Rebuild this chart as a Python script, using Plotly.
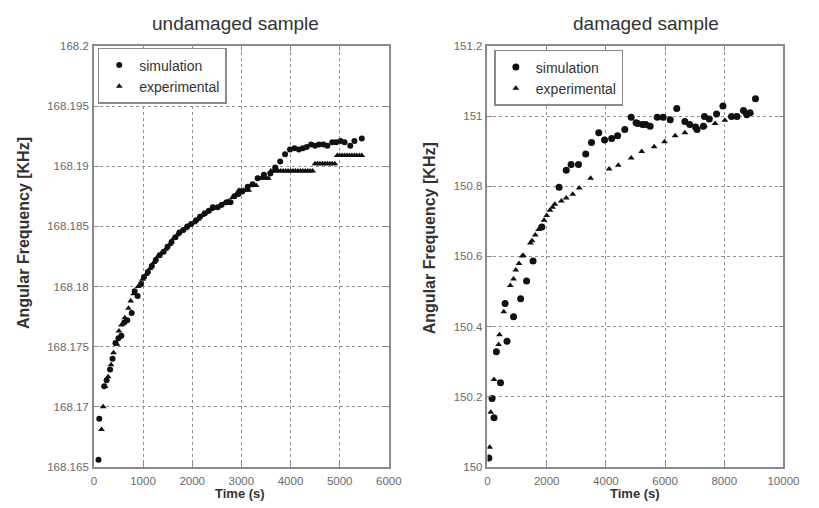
import plotly.graph_objects as go

# ---------------- undamaged sample ----------------
sim_u_t = [95, 110, 210, 260, 330, 380, 440, 500, 560, 620, 680, 770, 830, 890, 960, 1020,
           1100, 1180, 1260, 1340, 1420, 1500, 1580, 1660, 1740, 1820, 1900, 1980, 2080,
           2160, 2260, 2340, 2420, 2520, 2600, 2700, 2780, 2860, 2940, 3020, 3130, 3230,
           3330, 3460, 3590, 3690, 3790, 3890, 3990, 4080, 4170, 4250, 4330, 4420, 4500,
           4580, 4670, 4750, 4850, 4930, 5020, 5100, 5215, 5300, 5450]
sim_u_f = [168.1656, 168.1690, 168.1717, 168.1722, 168.1731, 168.1740, 168.1753, 168.1757,
           168.1759, 168.1770, 168.1772, 168.1778, 168.1796, 168.1792, 168.1802, 168.1808,
           168.1812, 168.1817, 168.1822, 168.1826, 168.1829, 168.1833, 168.1837, 168.1841,
           168.1845, 168.1847, 168.1850, 168.1852, 168.1855, 168.1858, 168.1861, 168.1863,
           168.1866, 168.1866, 168.1868, 168.1870, 168.1870, 168.1875, 168.1877, 168.1879,
           168.1883, 168.1885, 168.1890, 168.1893, 168.1894, 168.1899, 168.1904, 168.1910,
           168.1914, 168.1915, 168.1914, 168.1915, 168.1916, 168.1918, 168.1917, 168.1918,
           168.1918, 168.1917, 168.1920, 168.1920, 168.1921, 168.1920, 168.1917, 168.1921,
           168.1923]

exp_u_t = [155, 190, 230, 290, 350, 400, 470, 510, 560, 630, 705, 750, 810, 900, 990, 1060,
           1140, 1220, 1300, 1380, 1460, 1540, 1620, 1700, 1780, 1860, 1940, 2040, 2120,
           2200, 2300, 2380, 2460, 2560, 2650, 2740, 2820, 2900,
           2950, 3000, 3050, 3100, 3150,
           3200, 3250, 3300,
           3350, 3400, 3450, 3500, 3550,
           3600, 3650, 3700, 3750, 3800, 3850, 3900, 3950, 4000, 4050, 4100, 4150, 4200,
           4250, 4300, 4350, 4400, 4450,
           4500, 4550, 4600, 4650, 4700, 4750, 4800, 4850, 4900,
           4950, 5000, 5050, 5100, 5150, 5200, 5250, 5300, 5350, 5400, 5450]
exp_u_f = [168.1681, 168.1700, 168.1717, 168.1725, 168.1735, 168.1745, 168.1752, 168.1763,
           168.1768, 168.1774, 168.1782, 168.1788, 168.1794, 168.1800, 168.1806, 168.1810,
           168.1815, 168.1820, 168.1825, 168.1828, 168.1831, 168.1835, 168.1840, 168.1843,
           168.1846, 168.1848, 168.1851, 168.1853, 168.1856, 168.1859, 168.1862, 168.1864,
           168.1865, 168.1867, 168.1869, 168.1871, 168.1874, 168.1877,
           168.1880, 168.1880, 168.1880, 168.1880, 168.1880,
           168.1884, 168.1884, 168.1884,
           168.1890, 168.1890, 168.1890, 168.1890, 168.1890,
           168.1896, 168.1896, 168.1896, 168.1896, 168.1896, 168.1896, 168.1896, 168.1896,
           168.1896, 168.1896, 168.1896, 168.1896, 168.1896, 168.1896, 168.1896, 168.1896,
           168.1896, 168.1896,
           168.1902, 168.1902, 168.1902, 168.1902, 168.1902, 168.1902, 168.1902, 168.1902,
           168.1902,
           168.1909, 168.1909, 168.1909, 168.1909, 168.1909, 168.1909, 168.1909, 168.1909,
           168.1909, 168.1909, 168.1909]

# ---------------- damaged sample ----------------
sim_d_t = [45, 155, 220, 300, 440, 595, 660, 880, 1120, 1320, 1540, 1835, 2420, 2660, 2825,
           3075, 3320, 3515, 3760, 3955, 4195, 4395, 4640, 4855, 5020, 5075, 5240, 5350, 5495,
           5735, 5935, 6175, 6395, 6670, 6835, 7030, 7080, 7295, 7330, 7495, 7740, 7955,
           8245, 8430, 8650, 8760, 8870, 9055]
sim_d_f = [150.025, 150.195, 150.140, 150.328, 150.240, 150.466, 150.358, 150.428, 150.479,
           150.530, 150.587, 150.684, 150.797, 150.846, 150.862, 150.862, 150.892, 150.925,
           150.953, 150.932, 150.936, 150.944, 150.962, 150.997, 150.981, 150.979, 150.976,
           150.976, 150.971, 150.997, 150.997, 150.990, 151.022, 150.985, 150.976, 150.969,
           150.962, 150.971, 150.999, 150.992, 151.006, 151.029, 150.999, 150.999, 151.016,
           151.004, 151.010, 151.050]

exp_d_t = [75, 110, 220, 375, 405, 550, 770, 880, 955, 1065, 1175, 1210, 1450, 1505, 1615,
           1725, 1910, 2000, 2110, 2200, 2275, 2495, 2660, 2880, 3100, 3485, 4110, 4420, 4855,
           5210, 5630, 5980, 6340, 6670, 7030, 7330, 7690, 8020, 8375, 8725, 8900]
exp_d_f = [150.056, 150.156, 150.249, 150.349, 150.377, 150.442, 150.517, 150.536, 150.561,
           150.580, 150.601, 150.603, 150.638, 150.645, 150.661, 150.677, 150.703, 150.717,
           150.732, 150.740, 150.749, 150.758, 150.767, 150.777, 150.795, 150.823, 150.849,
           150.860, 150.881, 150.899, 150.913, 150.927, 150.944, 150.953, 150.967, 150.973,
           150.979, 150.988, 150.999, 151.008, 151.010]

# ticks
u_xticks = [0, 1000, 2000, 3000, 4000, 5000, 6000]
u_xtext = ["0", "1000", "2000", "3000", "4000", "5000", "6000"]
u_yticks = [168.165, 168.17, 168.175, 168.18, 168.185, 168.19, 168.195, 168.2]
u_ytext = ["168.165", "168.17", "168.175", "168.18", "168.185", "168.19", "168.195", "168.2"]
d_xticks = [0, 2000, 4000, 6000, 8000, 10000]
d_xtext = ["0", "2000", "4000", "6000", "8000", "10000"]
d_yticks = [150, 150.2, 150.4, 150.6, 150.8, 151, 151.2]
d_ytext = ["150", "150.2", "150.4", "150.6", "150.8", "151", "151.2"]

titles = ["undamaged sample", "damaged sample"]
ytitle = "Angular Frequency [KHz]"
xtitle = "Time (s)"
names = ["simulation", "experimental"]

W, H = 819, 508
MK = "#111111"
FONT = "Liberation Sans, Arial"

fig = go.Figure()
fig.add_trace(go.Scatter(x=sim_u_t, y=sim_u_f, mode="markers", name=names[0],
                         marker=dict(symbol="circle", size=6, color=MK),
                         xaxis="x", yaxis="y", legend="legend"))
fig.add_trace(go.Scatter(x=exp_u_t, y=exp_u_f, mode="markers", name=names[1],
                         marker=dict(symbol="triangle-up", size=6, color=MK),
                         xaxis="x", yaxis="y", legend="legend"))
fig.add_trace(go.Scatter(x=sim_d_t, y=sim_d_f, mode="markers", name=names[0],
                         marker=dict(symbol="circle", size=7, color=MK),
                         xaxis="x2", yaxis="y2", legend="legend2"))
fig.add_trace(go.Scatter(x=exp_d_t, y=exp_d_f, mode="markers", name=names[1],
                         marker=dict(symbol="triangle-up", size=6, color=MK),
                         xaxis="x2", yaxis="y2", legend="legend2"))

axis_common = dict(showline=True, linecolor="#8a8a8a", linewidth=1.5, mirror="ticks",
                   ticks="inside", ticklen=5, tickcolor="#8a8a8a",
                   showgrid=True, gridcolor="#909090", griddash="dot", gridwidth=1,
                   zeroline=False, tickfont=dict(family=FONT, size=11.5, color="#6a6a6a"))

ydom = [36 / H, 467 / H]
fig.update_layout(
    width=W, height=H,
    margin=dict(l=0, r=0, t=0, b=0),
    paper_bgcolor="white", plot_bgcolor="white",
    xaxis=dict(domain=[93 / W, 395 / W], range=[0, 6000], tickvals=u_xticks, ticktext=u_xtext,
               anchor="y", ticklabelstandoff=3, **axis_common),
    yaxis=dict(domain=ydom, range=[168.165, 168.2], tickvals=u_yticks, ticktext=u_ytext,
               anchor="x", ticklabelstandoff=1, **axis_common),
    xaxis2=dict(domain=[496 / W, 799 / W], range=[0, 10000], tickvals=d_xticks, ticktext=d_xtext,
                anchor="y2", ticklabelstandoff=3, **axis_common),
    yaxis2=dict(domain=ydom, range=[150, 151.2], tickvals=d_yticks, ticktext=d_ytext,
                anchor="x2", ticklabelstandoff=1, **axis_common),
    legend=dict(x=97 / W, y=1 - 43 / H, xanchor="left", yanchor="top",
                bordercolor="#8a8a8a", borderwidth=1.5, bgcolor="white",
                font=dict(family=FONT, size=14, color="#333333"),
                itemwidth=30, tracegroupgap=0),
    legend2=dict(x=503 / W, y=1 - 45 / H, xanchor="left", yanchor="top",
                 bordercolor="#8a8a8a", borderwidth=1.5, bgcolor="white",
                 font=dict(family=FONT, size=14, color="#333333"),
                 itemwidth=30, tracegroupgap=0),
    showlegend=True,
)

ann_font = dict(family=FONT, color="#333333")
annotations = [
    dict(text=titles[0], x=238 / W, y=1 - 18 / H, font=dict(size=19, **ann_font)),
    dict(text=titles[1], x=658 / W, y=1 - 18 / H, font=dict(size=19, **ann_font)),
    dict(text="<b>" + xtitle + "</b>", x=243 / W, y=0, yanchor="bottom", borderpad=0,
         font=dict(size=13, **ann_font)),
    dict(text="<b>" + xtitle + "</b>", x=647 / W, y=0, yanchor="bottom", borderpad=0,
         font=dict(size=13, **ann_font)),
    dict(text="<b>" + ytitle + "</b>", x=21 / W, y=1 - 233 / H, textangle=-90,
         font=dict(size=16, **ann_font)),
    dict(text="<b>" + ytitle + "</b>", x=437 / W, y=1 - 238 / H, textangle=-90,
         font=dict(size=16, **ann_font)),
]
for a in annotations:
    a.setdefault("yanchor", "middle")
    a.update(xref="paper", yref="paper", showarrow=False, xanchor="center")
fig.update_layout(annotations=annotations)

fig.write_html("out.html")
